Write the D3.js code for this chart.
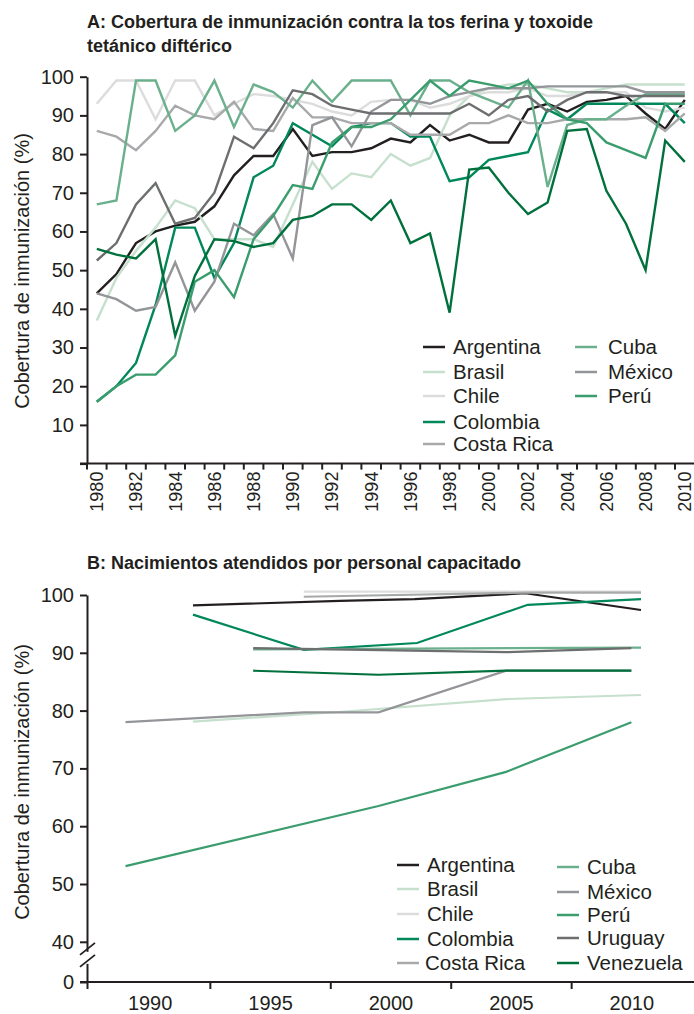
<!DOCTYPE html>
<html>
<head>
<meta charset="utf-8">
<script src="https://cdn.jsdelivr.net/npm/d3@7"></script>
<style>
  body { margin: 0; background: #fff; }
  text { font-family: "Liberation Sans", Arial, sans-serif; fill: #231f20; }
  .axis path, .axis line { stroke: #231f20; stroke-width: 2px; }
  .axis text { font-size: 20px; }
</style>
</head>
<body>
<script>
// ---- data: panel A (DTP3 coverage, 1980-2010) ----
var years = d3.range(1980, 2011);
var argentinaA = [44,49,57,60,61.5,62.5,66.5,74.5,79.5,79.5,86.5,79.5,80.5,80.5,81.5,84,83,87.5,83.5,85,83,83,91.5,93,91,93.5,94,95,90.5,86.5,94];
var brasilA    = [37,48,55,61,68,66,58,58,58,56,67,78,71,75,74,80,77,79,90,95,97,98,98,97,96,96,97,98,98,98,98];
var chileA     = [93,99,99,89,99,99,90,93,95.5,95,94,93,91,90,93.5,94,94,92,93,95,96,96,97,95,95,96,96,96,92,91,92];
var colombiaA  = [16,20,26,41,61,61,48,57,74,77,88,85,82,87,88,88,84.5,84.5,73,74,78.5,79.5,80.5,91.5,89,93,93,93,93,93,88];
var costaRicaA = [86,84.5,81,86,92.5,90,89,93.5,86.5,86,94.5,89.5,89.5,88,88,88,85,85,85,88,88,90,88,88,89,89,89,89,89.5,86,90.5];
var cubaA      = [67,68,99,99,86,90,99,87,98,96,92,99,93.5,99,99,99,90,99,99,96,94,92,99,71.5,87.5,89,89,92.5,95.5,95.5,95.5];
var mexicoA    = [44,42.5,39.5,40.5,52,39.5,47,62,59,64.5,53,87.5,89.5,82,91,94,94,93,95,96,97,97,97,97.5,97.5,97.5,97.5,97.5,96,96,96];
var peruA      = [16,20,23,23,28,47,50,43,58,64,72,71,83,87,87,89,94,99,95,99,98,97,99,93,89,88,83,81,79,93,93];
var uruguayA   = [52.5,57,67,72.5,62,63.5,70,84.5,81.5,88,96.5,95.5,92.5,91.5,90.5,90.5,90.5,90.5,90.5,93,90,94,95,91,94,96,96,95,95,95,95];
var venezuelaA = [55.5,54,53,58,33,48.5,58,57.5,56,57,63,64,67,67,63,68,57,59.5,39,76,76.5,70,64.5,67.5,86,86.5,70.5,62,50,83.5,78];

// ---- data: panel B (births attended by skilled personnel), [year, %] ----
var argentinaB = [[1991.8,98.2],[1997.9,99],[2001,99.3],[2005.6,100.3],[2010.4,97.4]];
var brasilB    = [[1991.8,78.1],[1998,79.8],[2004.8,82],[2010.4,82.7]];
var chileB     = [[1996.4,100.6],[2010.4,100.6]];
var colombiaB  = [[1991.8,96.6],[1996.4,90.5],[2001.1,91.7],[2005.7,98.3],[2010.4,99.3]];
var costaRicaB = [[1996.4,99.7],[2005.6,100.4],[2010.4,100.4]];
var cubaB      = [[1994.3,90.6],[2010.4,90.9]];
var mexicoB    = [[1989,78],[1996.4,79.7],[1999.5,79.7],[2004.8,86.9],[2010,86.9]];
var peruB      = [[1989,53.1],[1999.5,63.5],[2004.8,69.4],[2010,78]];
var uruguayB   = [[1994.3,90.8],[2004.8,90.1],[2010,90.8]];
var venezuelaB = [[1994.3,86.9],[1999.5,86.2],[2004.8,86.9],[2010,86.9]];

var countries = ["Argentina","Brasil","Chile","Colombia","Costa Rica","Cuba","México","Perú","Uruguay","Venezuela"];
var colors = ["#231f20","#c6e0cd","#dcdcdc","#00875a","#a8a9ab","#6bb08c","#939598","#3b9d6e","#6d6e70","#00703c"];
var seriesA = [argentinaA,brasilA,chileA,colombiaA,costaRicaA,cubaA,mexicoA,peruA,uruguayA,venezuelaA];
var seriesB = [argentinaB,brasilB,chileB,colombiaB,costaRicaB,cubaB,mexicoB,peruB,uruguayB,venezuelaB];
var legendA = countries.slice(0, 8);
var legendB = countries;

var ticksA = d3.range(0, 101, 10);
var ticksB = [0,40,50,60,70,80,90,100];
var labelYearsB = [1990,1995,2000,2005,2010];
var tickYearsB = [1992.5,1997.5,2002.5,2007.5];

var color = d3.scaleOrdinal().domain(countries).range(colors);

var svg = d3.select("body").append("svg")
    .attr("width", 694)
    .attr("height", 1014);

// ================= Panel A =================
var xA = d3.scaleBand().domain(years).range([87, 694.6]);
var yA = d3.scaleLinear().domain([0, 100]).range([463.6, 76.7]);

svg.append("text").attr("x", 87).attr("y", 28)
    .style("font-size", "18px").style("font-weight", "bold")
    .text("A: Cobertura de inmunización contra la tos ferina y toxoide");
svg.append("text").attr("x", 87).attr("y", 52)
    .style("font-size", "18px").style("font-weight", "bold")
    .text("tetánico diftérico");

var lineA = d3.line()
    .x(function(d, i) { return xA(years[i]) + xA.bandwidth() / 2; })
    .y(function(d) { return yA(d); });

svg.append("g").attr("class", "linesA")
  .selectAll("path")
    .data(seriesA)
  .enter().append("path")
    .attr("d", lineA)
    .style("fill", "none")
    .style("stroke", function(d, i) { return colors[i]; })
    .style("stroke-width", 2.4)
    .style("stroke-linejoin", "miter");

var gxA = svg.append("g").attr("class", "axis")
    .attr("transform", "translate(0," + yA(0) + ")")
    .call(d3.axisBottom(xA).tickSize(6).tickSizeOuter(0)
      .tickFormat(function(d) { return d % 2 === 0 ? d : ""; }));
gxA.selectAll(".tick line")
    .attr("x1", -xA.bandwidth() / 2).attr("x2", -xA.bandwidth() / 2);
gxA.select(".domain").attr("d", "M80,0H694");
gxA.selectAll(".tick text")
    .style("font-size", "18px")
    .attr("transform", "rotate(-90)")
    .attr("text-anchor", "end")
    .attr("x", -8).attr("y", 0).attr("dy", "0.35em");

svg.append("g").attr("class", "axis")
    .attr("transform", "translate(87,0)")
    .call(d3.axisLeft(yA).tickValues(ticksA).tickSize(7).tickSizeOuter(0).tickPadding(6)
      .tickFormat(function(d) { return d === 0 ? "" : d; }));

svg.append("text")
    .attr("transform", "translate(29,271) rotate(-90)")
    .attr("text-anchor", "middle")
    .style("font-size", "20px")
    .text("Cobertura de inmunización (%)");

// legend A
var legA = svg.append("g").selectAll("g")
    .data(legendA)
  .enter().append("g")
    .attr("transform", function(d, i) {
      var col = i < 5 ? 0 : 1, row = i < 5 ? i : i - 5;
      var rowsY = [347, 372, 396, 422, 444];
      return "translate(" + (col ? 575 : 423) + "," + rowsY[row] + ")";
    });
legA.append("line").attr("x1", 0).attr("x2", 22)
    .style("stroke", function(d) { return color(d); }).style("stroke-width", 2.5);
legA.append("text").attr("x", function(d, i) { return i < 5 ? 30 : 33; }).attr("dy", "0.35em")
    .style("font-size", "20.5px")
    .text(function(d) { return d; });

// ================= Panel B =================
var xB = d3.scaleLinear().domain([1987.4, 2012.6]).range([87, 694]);
var yB = d3.scaleLinear().domain([0, 40, 100]).range([982, 941.8, 595]);

svg.append("text").attr("x", 87).attr("y", 569)
    .style("font-size", "18px").style("font-weight", "bold")
    .text("B: Nacimientos atendidos por personal capacitado");

var lineB = d3.line()
    .x(function(d) { return xB(d[0]); })
    .y(function(d) { return yB(d[1]); });

svg.append("g").attr("class", "linesB")
  .selectAll("path")
    .data(seriesB)
  .enter().append("path")
    .attr("d", lineB)
    .style("fill", "none")
    .style("stroke", function(d, i) { return colors[i]; })
    .style("stroke-width", 2.2);

var gxB = svg.append("g").attr("class", "axis")
    .attr("transform", "translate(0,982)")
    .call(d3.axisBottom(xB).tickValues([1987.4].concat(tickYearsB)).tickSize(7).tickSizeOuter(0)
      .tickFormat(""));
gxB.select(".domain").attr("d", "M80,0H694");

svg.append("g").attr("class", "axis")
    .attr("transform", "translate(0,982)")
    .call(d3.axisBottom(xB).tickValues(labelYearsB).tickSize(0).tickPadding(14)
      .tickFormat(d3.format("d")))
    .select(".domain").remove();

svg.append("g").attr("class", "axis")
    .attr("transform", "translate(87,0)")
    .call(d3.axisLeft(yB).tickValues(ticksB).tickSize(7).tickSizeOuter(0).tickPadding(6));

// axis break
svg.append("rect").attr("x", 83).attr("y", yB(30)).attr("width", 8).attr("height", 12)
    .style("fill", "#fff");
svg.append("g").selectAll("line")
    .data([0, 1])
  .enter().append("line")
    .attr("x1", 80).attr("x2", 95)
    .attr("y1", function(d) { return yB(30) + 3 + d * 12; })
    .attr("y2", function(d) { return yB(30) - 9 + d * 12; })
    .style("stroke", "#231f20").style("stroke-width", 1.8);

svg.append("text")
    .attr("transform", "translate(29,782) rotate(-90)")
    .attr("text-anchor", "middle")
    .style("font-size", "20px")
    .text("Cobertura de inmunización (%)");

// legend B
var legB = svg.append("g").selectAll("g")
    .data(legendB)
  .enter().append("g")
    .attr("transform", function(d, i) {
      var col = i < 5 ? 0 : 1, row = i % 5;
      var rowsY = col ? [867, 892, 915, 938, 963] : [865, 889, 914, 939, 963];
      return "translate(" + (col ? 557 : 397) + "," + rowsY[row] + ")";
    });
legB.append("line").attr("x1", 0).attr("x2", 22)
    .style("stroke", function(d) { return color(d); }).style("stroke-width", 2.5);
legB.append("text").attr("x", function(d, i) { return i === 4 ? 28 : 30; }).attr("dy", "0.35em")
    .style("font-size", "20.5px")
    .text(function(d) { return d; });
</script>
</body>
</html>
